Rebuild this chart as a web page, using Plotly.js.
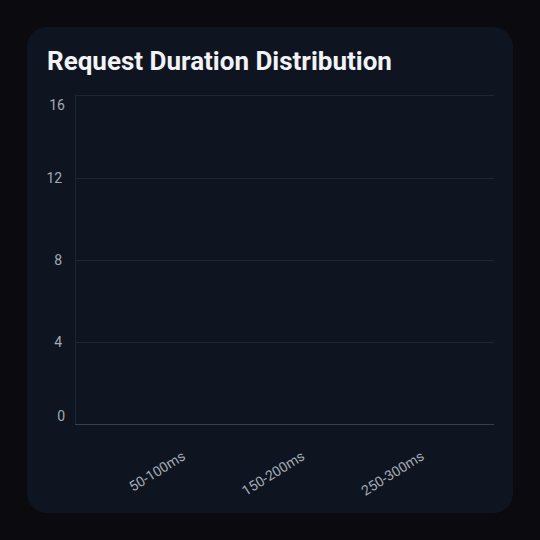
<!DOCTYPE html>
<html>
<head>
<meta charset="utf-8">
<script src="https://cdn.plot.ly/plotly-3.0.1.min.js"></script>
<style>
  html, body { margin: 0; padding: 0; background: #0a0a0f; }
  body { width: 540px; height: 540px; position: relative; overflow: hidden; }
  #card {
    position: absolute; left: 27px; top: 27px;
    width: 486px; height: 486px;
    background: #0f1520; border-radius: 20px; overflow: hidden;
  }
  #chart { width: 486px; height: 486px; }
</style>
</head>
<body>
<div id="card"><div id="chart"></div></div>
<script>
// duration buckets
var buckets = ['0-50ms', '50-100ms', '100-150ms', '150-200ms', '200-250ms', '250-300ms', '300ms+'];
// request counts per bucket (no bars visible in the picture)
var counts = [0, 0, 0, 0, 0, 0, 0];
// labels printed under the axis
var shownTicks = ['50-100ms', '150-200ms', '250-300ms'];
var yMax = 16;

var data = [{
  type: 'bar',
  x: buckets,
  y: counts,
  marker: { color: '#3b82f6' },
  hoverinfo: 'x+y'
}, {
  // same empty series, only so the extra axes get drawn
  type: 'bar', x: buckets, y: counts, xaxis: 'x2', yaxis: 'y2', hoverinfo: 'skip', showlegend: false
}, {
  type: 'bar', x: buckets, y: counts, yaxis: 'y3', hoverinfo: 'skip', showlegend: false
}];

var tickFont = { size: 14, color: '#a3aab5' };

var layout = {
  width: 486,
  height: 486,
  paper_bgcolor: 'rgba(0,0,0,0)',
  plot_bgcolor: 'rgba(0,0,0,0)',
  font: { family: 'Roboto, sans-serif', color: '#a3aab5', size: 14 },
  title: {
    text: 'Request Duration Distribution',
    font: { family: 'Roboto, sans-serif', size: 26, color: '#f1f3f7', weight: 700 },
    xref: 'container', x: 20 / 486, xanchor: 'left',
    yref: 'container', y: 1 - 34 / 486, yanchor: 'middle'
  },
  margin: { l: 49, r: 19, t: 69, b: 89 },
  showlegend: false,
  barmode: 'group',
  xaxis: {
    type: 'category',
    tickvals: shownTicks,
    tickangle: -32,
    showgrid: false,
    showline: true,
    linecolor: '#3a404b',
    linewidth: 1,
    ticks: '',
    ticklabelshift: 17,
    ticklabelstandoff: 18,
    tickfont: tickFont,
    fixedrange: true
  },
  // faint line along the top edge
  xaxis2: {
    type: 'category',
    overlaying: 'x',
    anchor: 'y2',
    side: 'top',
    showline: true,
    linecolor: '#1f2531',
    showgrid: false,
    showticklabels: false,
    ticks: '',
    fixedrange: true
  },
  // middle labels sit on their grid lines
  yaxis: {
    range: [0, yMax],
    tickvals: [4, 8, 12],
    showgrid: true,
    gridcolor: '#1f2531',
    zeroline: false,
    showline: true,
    linecolor: '#1f2531',
    ticks: '',
    ticklabelstandoff: 10,
    tickfont: tickFont,
    fixedrange: true
  },
  // top label pushed a bit down
  yaxis2: {
    overlaying: 'y',
    range: [0, yMax],
    tickvals: [yMax],
    showgrid: false,
    zeroline: false,
    ticks: '',
    ticklabelstandoff: 10,
    ticklabelshift: 9,
    tickfont: tickFont,
    fixedrange: true
  },
  // bottom label pushed a bit up
  yaxis3: {
    overlaying: 'y',
    range: [0, yMax],
    tickvals: [0],
    showgrid: false,
    zeroline: false,
    ticks: '',
    ticklabelstandoff: 10,
    ticklabelshift: -8,
    tickfont: tickFont,
    fixedrange: true
  }
};

Plotly.newPlot('chart', data, layout, { displayModeBar: false, staticPlot: true });
</script>
</body>
</html>
